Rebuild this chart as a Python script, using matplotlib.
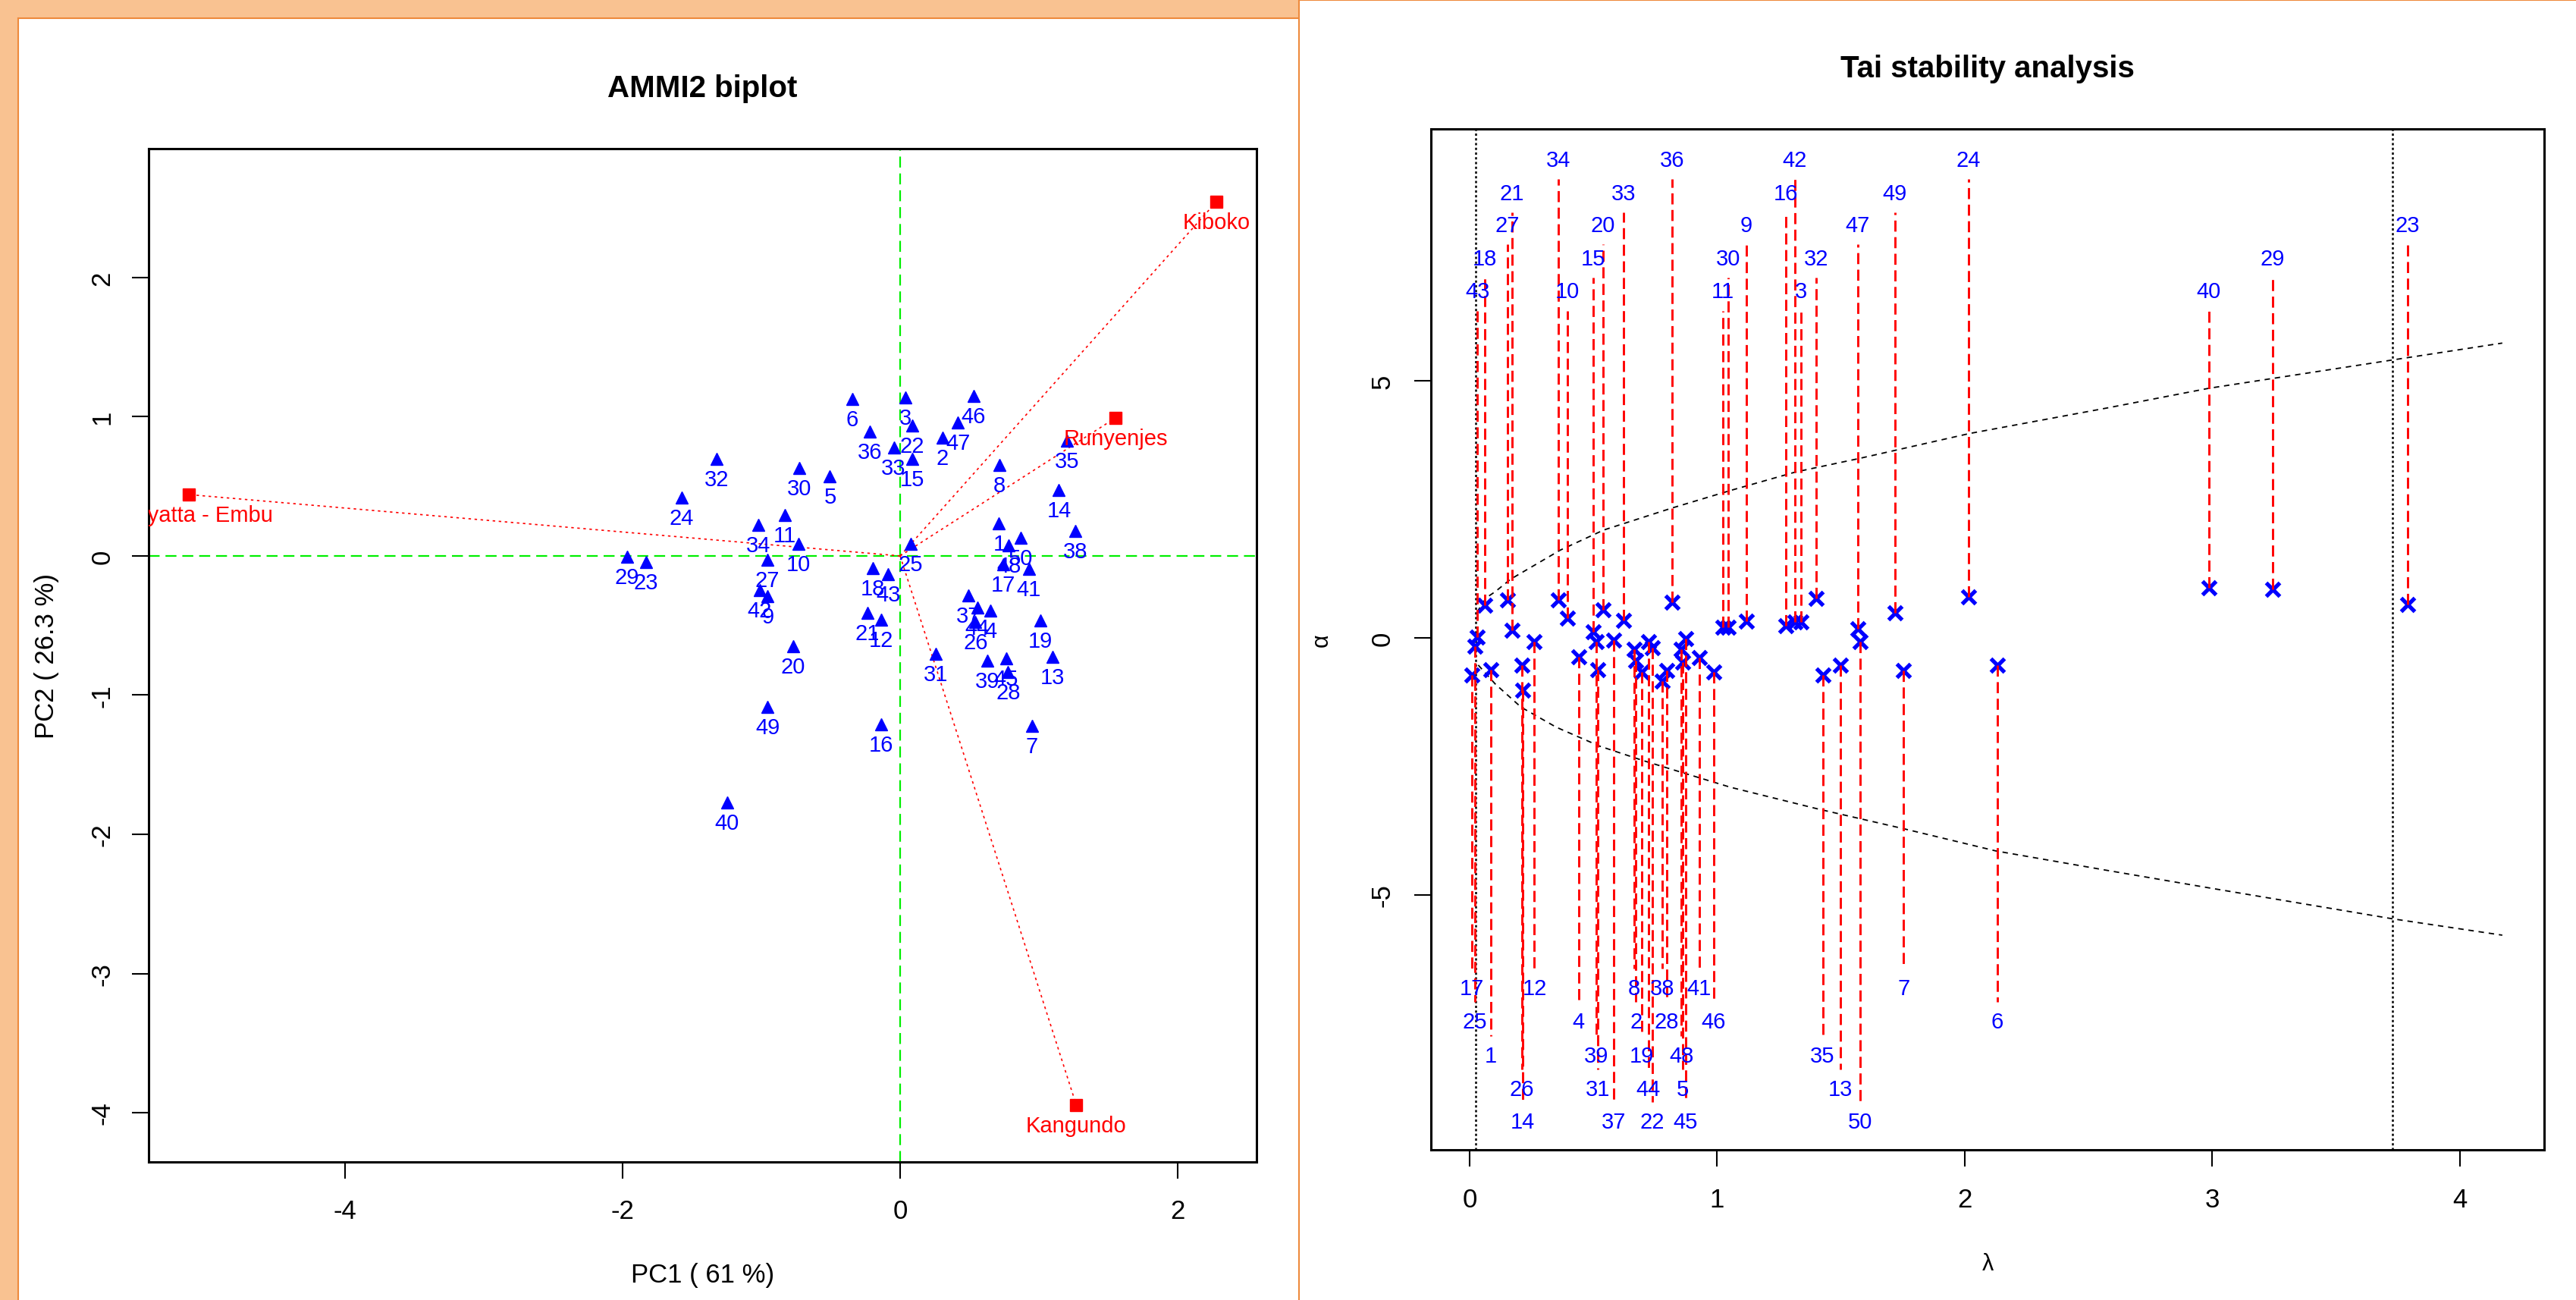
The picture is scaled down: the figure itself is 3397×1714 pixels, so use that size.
import numpy as np
import matplotlib as mpl
mpl.use('Agg')
import matplotlib.pyplot as plt
from matplotlib.patches import Rectangle
from matplotlib.lines import Line2D
from matplotlib.transforms import offset_copy

plt.rcParams['font.family'] = ['Liberation Sans', 'DejaVu Sans']
plt.rcParams['axes.unicode_minus'] = False

# ---------------- AMMI2 biplot data ----------------
genotypes = list(range(1, 51))
pc1 = [0.712, 0.304, 0.038, 0.652, -0.506, -0.346, 0.948, 0.717, -0.955, -0.733,
       -0.830, -0.137, 1.097, 1.144, 0.085, -0.137, 0.743, -0.197, 1.009, -0.772,
       -0.237, 0.085, -1.833, -1.576, 0.077, 0.543, -0.955, 0.778, -1.967, -0.725,
       0.255, -1.323, -0.046, -1.021, 1.201, -0.216, 0.490, 1.261, 0.626, -1.248,
       0.927, -1.013, -0.087, 0.555, 0.765, 0.529, 0.417, 0.783, -0.955, 0.869]
pc2 = [0.234, 0.850, 1.139, -0.391, 0.574, 1.128, -1.221, 0.652, -0.289, 0.088,
       0.295, -0.459, -0.726, 0.472, 0.697, -1.209, -0.058, -0.087, -0.466, -0.647,
       -0.411, 0.935, -0.046, 0.421, 0.088, -0.476, -0.029, -0.836, -0.004, 0.630,
       -0.703, 0.697, 0.779, 0.222, 0.830, 0.896, -0.282, 0.180, -0.751, -1.773,
       -0.094, -0.248, -0.131, -0.369, -0.734, 1.151, 0.959, 0.076, -1.085, 0.131]
environments = ["Kiboko", "Runyenjes", "Kangundo", "Manyatta - Embu"]
env_pc1 = [2.279, 1.554, 1.270, -5.128]
env_pc2 = [2.545, 0.993, -3.947, 0.441]

# ---------------- Tai stability data ----------------
tai_lambda = [0.086, 0.672, 1.339, 0.440, 0.862, 2.131, 1.753, 0.664, 1.118, 0.394,
              1.023, 0.262, 1.498, 0.215, 0.499, 1.277, 0.010, 0.062, 0.696, 0.539,
              0.171, 0.737, 3.789, 2.015, 0.022, 0.210, 0.153, 0.795, 3.244, 1.045,
              0.517, 1.401, 0.622, 0.358, 1.426, 0.819, 0.582, 0.777, 0.513, 2.986,
              0.927, 1.313, 0.032, 0.722, 0.872, 0.986, 1.568, 0.855, 1.718, 1.577]
tai_alpha = [-0.62, -0.45, 0.31, -0.37, -0.47, -0.53, -0.64, -0.22, 0.33, 0.39,
             0.21, -0.08, -0.53, -1.02, 0.12, 0.24, -0.73, 0.64, -0.67, 0.55,
             0.15, -0.19, 0.65, 0.80, -0.16, -0.53, 0.74, -0.64, 0.95, 0.20,
             -0.62, 0.77, 0.34, 0.74, -0.73, 0.69, -0.04, -0.84, -0.08, 0.97,
             -0.39, 0.31, 0.01, -0.07, -0.02, -0.66, 0.18, -0.22, 0.49, -0.08]
upper_lambda = [0.030, 0.067, 0.104, 0.165, 0.367, 0.542, 0.819, 1.054, 1.317, 1.571,
                2.020, 2.579, 2.986, 3.726, 4.171]
upper_alpha = [0.50, 0.78, 0.90, 1.14, 1.71, 2.10, 2.53, 2.87, 3.23, 3.49,
               3.98, 4.48, 4.86, 5.41, 5.74]
lower_lambda = [0.035, 0.104, 0.208, 0.350, 0.526, 0.701, 0.877, 1.054, 1.405, 1.756,
                2.126, 2.565, 3.000, 3.726, 4.171]
lower_alpha = [-0.53, -0.90, -1.35, -1.74, -2.11, -2.39, -2.65, -2.91, -3.33, -3.72,
               -4.15, -4.52, -4.88, -5.47, -5.79]
tai_limits = [0.025, 3.726]

# label rows used by the Tai plot
top_rows = [6.75, 7.39, 8.04, 8.66, 9.31]
bottom_rows = [-6.82, -7.47, -8.14, -8.79, -9.42]

W, H = 3397, 1715
def fx(px): return px / W
def fy(py): return 1 - py / H
PX = 0.72  # points per pixel at dpi 100

fig = plt.figure(figsize=(W / 100, H / 100), dpi=100, facecolor='#F9C291')
# panel backgrounds
fig.add_artist(Rectangle((fx(25), 0), fx(1712) - fx(25), fy(26), transform=fig.transFigure,
                         fc='white', ec='none', zorder=0))
fig.add_artist(Rectangle((fx(1714), 0), 1 - fx(1714), fy(2), transform=fig.transFigure,
                         fc='white', ec='none', zorder=0))
orange = '#EE8A3C'
fig.add_artist(Line2D([fx(24), fx(24)], [0, fy(25)], transform=fig.transFigure, color=orange, lw=1.5))
fig.add_artist(Line2D([fx(24), fx(1712)], [fy(25), fy(25)], transform=fig.transFigure, color=orange, lw=1.5))
fig.add_artist(Line2D([fx(1713), fx(1713)], [0, 1], transform=fig.transFigure, color=orange, lw=1.5))
fig.add_artist(Line2D([fx(1713), 1], [fy(1), fy(1)], transform=fig.transFigure, color=orange, lw=1.5))


def style_axes(ax, ypad_px, xpad_px):
    for s in ax.spines.values():
        s.set_linewidth(2.2)
    ax.tick_params(direction='out', length=15.5, width=1.5, labelsize=25)
    ax.tick_params(axis='y', pad=ypad_px * PX)
    ax.tick_params(axis='x', pad=xpad_px * PX)
    for lbl in ax.get_yticklabels():
        lbl.set_rotation(90)
        lbl.set_ha('center')
        lbl.set_va('center')
    for lbl in ax.get_xticklabels():
        lbl.set_va('center')


# ---------------- left: AMMI2 biplot ----------------
ax1 = fig.add_axes([fx(196), fy(1533), (1657 - 196) / W, (1533 - 197) / H])
ax1.set_xlim(-5.415, 2.568)
ax1.set_ylim(-4.354, 2.926)
ax1.set_xticks([-4, -2, 0, 2])
ax1.set_yticks([-4, -3, -2, -1, 0, 1, 2])
style_axes(ax1, 39.5, 43)

ax1.axhline(0, color='#00EE00', lw=1.6, ls=(0, (6.5, 3.5)), zorder=1)
ax1.axvline(0, color='#00EE00', lw=1.6, ls=(0, (6.5, 3.5)), zorder=1)
for ex, ey in zip(env_pc1, env_pc2):
    ax1.plot([0, ex], [0, ey], color='red', lw=1.2, ls=(0, (2, 2.8)), zorder=2)
ax1.plot(pc1, pc2, '^', color='blue', ms=12, mec='blue', zorder=3)
ax1.plot(env_pc1, env_pc2, 's', color='red', ms=11, mec='red', zorder=3)

below = offset_copy(ax1.transData, fig=fig, x=0, y=-27 * PX, units='points')
for g, x, y in zip(genotypes, pc1, pc2):
    ax1.text(x, y, str(g), transform=below, ha='center', va='center',
             color='blue', fontsize=21, clip_on=True, zorder=4)
for name, x, y in zip(environments, env_pc1, env_pc2):
    ax1.text(x, y, name, transform=below, ha='center', va='center',
             color='red', fontsize=21, clip_on=True, zorder=4)

ax1.annotate('AMMI2 biplot', xy=(0.5, 1), xycoords='axes fraction', xytext=(0, 80 * PX),
             textcoords='offset points', ha='center', va='center', fontsize=29, fontweight='bold')
ax1.annotate('PC1 ( 61 %)', xy=(0.5, 0), xycoords='axes fraction', xytext=(0, -149 * PX),
             textcoords='offset points', ha='center', va='center', fontsize=25)
ax1.annotate('PC2 ( 26.3 %)', xy=(0, 0.5), xycoords='axes fraction', xytext=(-135 * PX, 0),
             textcoords='offset points', ha='center', va='center', fontsize=25, rotation=90)

# ---------------- right: Tai stability analysis ----------------
ax2 = fig.add_axes([fx(1887), fy(1517), (3355 - 1887) / W, (1517 - 171) / H])
ax2.set_xlim(-0.156, 4.34)
ax2.set_ylim(-9.97, 9.91)
ax2.set_xticks([0, 1, 2, 3, 4])
ax2.set_yticks([-5, 0, 5])
style_axes(ax2, 42.5, 44)

for v in tai_limits:
    ax2.axvline(v, color='black', lw=1.8, ls=(0, (1.2, 1.3)), zorder=1)
ax2.plot(upper_lambda, upper_alpha, color='black', lw=1.3, ls=(0, (4, 3.5)), zorder=1)
ax2.plot(lower_lambda, lower_alpha, color='black', lw=1.3, ls=(0, (4, 3.5)), zorder=1)
ax2.plot(tai_lambda, tai_alpha, 'x', color='blue', ms=13, mew=3.8, zorder=2)

top = sorted([i for i in range(50) if tai_alpha[i] >= 0], key=lambda i: tai_lambda[i])
bot = sorted([i for i in range(50) if tai_alpha[i] < 0], key=lambda i: tai_lambda[i])
for k, i in enumerate(top):
    lev = top_rows[k % 5]
    ax2.plot([tai_lambda[i]] * 2, [tai_alpha[i], lev - 0.38], color='red', lw=2.1,
             ls=(0, (5, 2.5)), zorder=3)
    ax2.text(tai_lambda[i], lev, str(genotypes[i]), ha='center', va='center',
             color='blue', fontsize=21, zorder=4)
for k, i in enumerate(bot):
    lev = bottom_rows[k % 5]
    ax2.plot([tai_lambda[i]] * 2, [tai_alpha[i], lev + 0.38], color='red', lw=2.1,
             ls=(0, (5, 2.5)), zorder=3)
    ax2.text(tai_lambda[i], lev, str(genotypes[i]), ha='center', va='center',
             color='blue', fontsize=21, zorder=4)

ax2.annotate('Tai stability analysis', xy=(0.5, 1), xycoords='axes fraction', xytext=(0, 80 * PX),
             textcoords='offset points', ha='center', va='center', fontsize=29, fontweight='bold')
ax2.annotate('\u03bb', xy=(0.5, 0), xycoords='axes fraction', xytext=(0, -150 * PX),
             textcoords='offset points', ha='center', va='center', fontsize=22)
ax2.annotate('\u03b1', xy=(0, 0.5), xycoords='axes fraction', xytext=(-144 * PX, 0),
             textcoords='offset points', ha='center', va='center', fontsize=22, rotation=90)

fig.savefig('out.png', dpi=100, facecolor=fig.get_facecolor())
